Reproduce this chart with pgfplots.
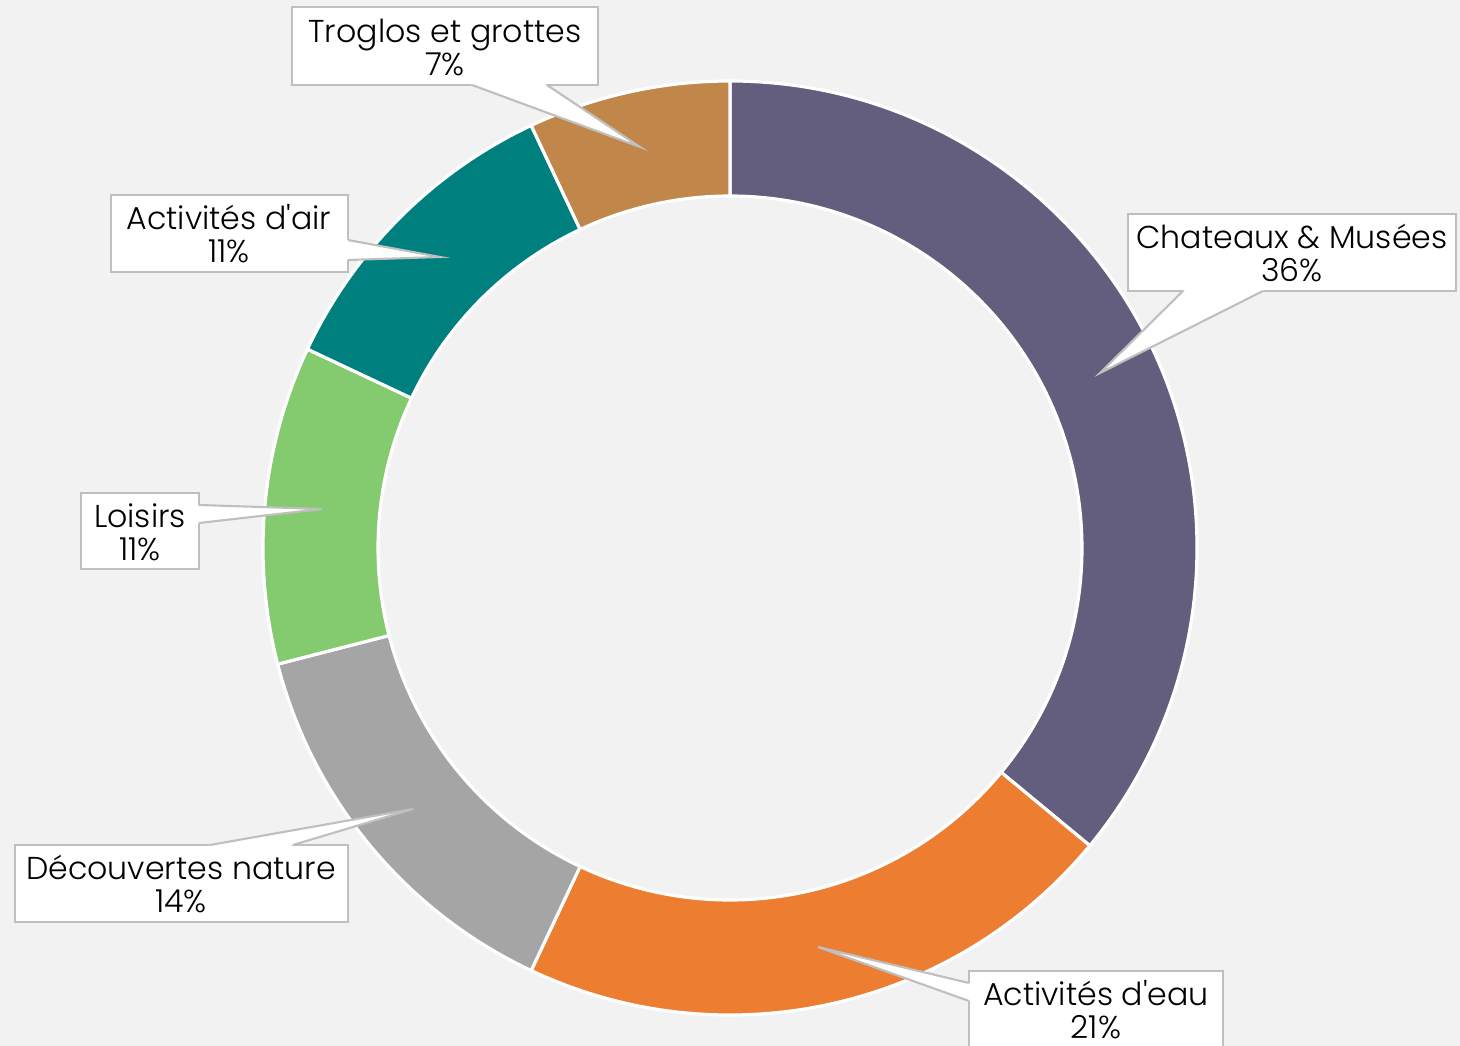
\documentclass[border=0pt]{standalone}
\usepackage{pgfplots}
\pgfplotsset{compat=1.18}
\usepackage{pgfplotstable}
\usepackage{fontspec}
\setmainfont{Poppins}[UprightFont={* Light}]

\definecolor{bg}{HTML}{F2F2F2}
\definecolor{cChat}{HTML}{645E7E}
\definecolor{cEau}{HTML}{ED7D31}
\definecolor{cNat}{HTML}{A5A5A5}
\definecolor{cLois}{HTML}{83CB6E}
\definecolor{cAir}{HTML}{007F7F}
\definecolor{cTrog}{HTML}{C1874A}
\definecolor{frame}{HTML}{BFBFBF}

% share of each activity, clockwise from the top
\pgfplotstableread{
value colour
36 cChat
21 cEau
14 cNat
11 cLois
11 cAir
7  cTrog
}\slices

\newcommand\lbl{\fontsize{9}{9.4}\selectfont}
% box corners (pixel coords, y down)
\newcommand\labelbox[4]{%
  \draw[frame, fill=white, line width=0.6pt] (axis cs:#1,#2) rectangle (axis cs:#3,#4);}
% base point 1, base point 2, tip, a point inside the box
\newcommand\pointer[4]{%
  \fill[white] (axis cs:#1) -- (axis cs:#3) -- (axis cs:#2) -- (axis cs:#4) -- cycle;
  \draw[frame, line width=0.6pt] (axis cs:#1) -- (axis cs:#3) -- (axis cs:#2);}
\newcommand\labeltext[3]{%
  \node[align=center, font=\lbl, text=black, inner sep=0pt] at (axis cs:#1,#2) {#3};}

\begin{document}
\begin{tikzpicture}
\begin{axis}[
  at={(0,0)}, anchor=south west,
  width=14.6cm, height=10.46cm, scale only axis,
  xmin=0, xmax=1460, ymin=0, ymax=1046, y dir=reverse,
  hide axis, clip=false]

\fill[bg] (axis cs:0,0) rectangle (axis cs:1460,1046);
\coordinate (tl) at (axis cs:0,0);
\coordinate (br) at (axis cs:1460,1046);

\pgfplotstablegetrowsof{\slices}
\pgfmathtruncatemacro\lastrow{\pgfplotsretval-1}
\def\cum{0}
\pgfplotsforeachungrouped \i in {0,...,\lastrow}{%
  \pgfplotstablegetelem{\i}{value}\of\slices \let\sv\pgfplotsretval
  \pgfplotstablegetelem{\i}{colour}\of\slices \let\scol\pgfplotsretval
  \pgfmathsetmacro\sa{90-3.6*\cum}
  \pgfmathsetmacro\sb{\sa-3.6*\sv}
  \edef\cmd{\noexpand\fill[\scol, draw=white, line width=0.9pt]
    (axis cs:730,548) ++(\sa:4.67cm) arc[start angle=\sa, end angle=\sb, radius=4.67cm]
    -- ++(\sb:-1.15cm) arc[start angle=\sb, end angle=\sa, radius=3.52cm] -- cycle;}
  \cmd
  \pgfmathsetmacro\cum{\cum+\sv}
}

% Chateaux & Musees
\labelbox{1128}{214}{1456}{291}
\pointer{1183,291}{1263,291}{1100,373}{1292,252}
\labeltext{1292}{253}{Chateaux \& Musées\\36\%}
% Activites d'eau
\labelbox{969}{971}{1223}{1050}
\pointer{969,983}{969,1001}{818,947}{1096,1010}
\labeltext{1096}{1010}{Activités d\textquotesingle eau\\21\%}
% Decouvertes nature
\labelbox{15}{845}{348}{922}
\pointer{210,845}{293,845}{413,809}{181,883}
\labeltext{181}{884}{Découvertes nature\\14\%}
% Loisirs
\labelbox{81}{493}{199}{569}
\pointer{199,505}{199,523}{322,509}{140,531}
\labeltext{140}{532}{Loisirs\\11\%}
% Activites d'air
\labelbox{111}{195}{348}{272}
\pointer{348,240}{348,260}{440,257}{229,233}
\labeltext{229}{234}{Activités d\textquotesingle air\\11\%}
% Troglos et grottes
\labelbox{292}{7}{598}{85}
\pointer{472,85}{547,85}{640,147}{445,46}
\labeltext{445}{47}{Troglos et grottes\\7\%}
\end{axis}
\pgfresetboundingbox
\useasboundingbox (tl) rectangle (br);
\end{tikzpicture}
\end{document}
